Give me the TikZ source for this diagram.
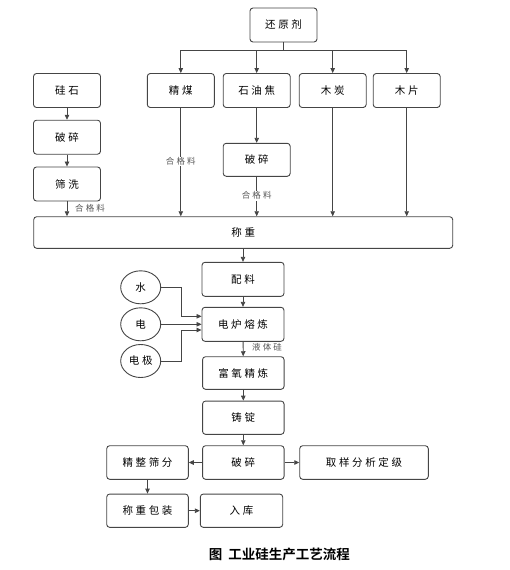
\documentclass[tikz,border=0pt]{standalone}
\usepackage{fontspec}
\newfontfamily\cjk[LetterSpace=25]{Noto Sans CJK SC}
\newfontfamily\cjkcap[BoldFont=* Bold]{Noto Sans CJK SC}
\usetikzlibrary{arrows.meta,calc}
\definecolor{ln}{HTML}{454545}
\definecolor{lab}{HTML}{555555}
\tikzset{
  box/.style={draw=ln, line width=0.9pt, rounded corners=3pt, minimum width=67pt, minimum height=34pt, inner sep=0pt, font=\cjk\fontsize{10.5}{12}\selectfont, text=black},
  circ/.style={draw=ln, line width=0.9pt, ellipse, minimum width=40pt, minimum height=33pt, inner sep=0pt, font=\cjk\fontsize{10.5}{12}\selectfont},
  conn/.style={draw=ln, line width=0.8pt},
  arr/.style={conn, -{Triangle[length=5pt,width=4.5pt]}},
  lbl/.style={font=\cjk\fontsize{8.5}{10}\selectfont, text=lab, inner sep=1pt},
}
\usetikzlibrary{shapes.geometric}
\begin{document}
\begin{tikzpicture}[x=1pt,y=-1pt]
\useasboundingbox (0,0) rectangle (509,570);
% top
\node[box] (hyj) at (283.5,25) {还原剂};
\node[box] (gs) at (67,90.5) {硅石};
\node[box] (jm) at (180.8,90.5) {精煤};
\node[box] (syj) at (256.7,90.5) {石油焦};
\node[box] (mt) at (332.7,90.5) {木炭};
\node[box] (mp) at (406.7,90.5) {木片};
\node[box] (ps1) at (67,137.2) {破碎};
\node[box] (sx) at (67,184) {筛洗};
\node[box, minimum height=33pt] (ps2) at (256.7,159.8) {破碎};
\node[box, minimum width=419pt, minimum height=31.6pt] (cz) at (243.2,232.5) {称重};
\node[box, minimum width=82pt] (pl) at (243,279.3) {配料};
\node[box, minimum width=82pt] (dl) at (243,324.3) {电炉熔炼};
\node[box, minimum width=81.5pt, minimum height=32.6pt] (fy) at (243.3,373) {富氧精炼};
\node[box, minimum width=81.5pt, minimum height=33.3pt] (zd) at (243.3,417.7) {铸锭};
\node[box, minimum width=81.5pt, minimum height=33.6pt] (ps3) at (243.3,462.5) {破碎};
\node[box, minimum width=81.6pt, minimum height=33.6pt] (jz) at (147.5,462.5) {精整筛分};
\node[box, minimum width=128.6pt, minimum height=33.6pt] (qy) at (364,462.5) {取样分析定级};
\node[box, minimum width=81.6pt, minimum height=33.3pt] (czb) at (147.5,510.7) {称重包装};
\node[box, minimum width=82.4pt, minimum height=33.3pt] (rk) at (241.5,510.7) {入库};
\node[circ] (sh) at (140.7,287.3) {水};
\node[circ] (di) at (140.7,324.3) {电};
\node[circ] (dj) at (140.7,361) {电极};
% connectors
\coordinate (br) at (283.5,50.7);
\draw[conn] (hyj.south) -- (br);
\draw[arr] (br) -| (jm.north);
\draw[arr] (br) -| (syj.north);
\draw[arr] (br) -| (mt.north);
\draw[arr] (br) -| (mp.north);
\draw[arr] (gs) -- (ps1);
\draw[arr] (ps1) -- (sx);
\draw[arr] (sx.south) -- (sx.south |- cz.north);
\node[lbl, anchor=west] (l1) at (74,208.3) {合格料};
\draw[arr] (jm.south) -- (jm.south |- cz.north) node[lbl, fill=white, pos=0.495] (l2) {合格料};
\draw[arr] (syj) -- (ps2);
\draw[arr] (ps2.south) -- (ps2.south |- cz.north) node[lbl, fill=white, pos=0.48] (l3) {合格料};
\draw[arr] (mt.south) -- (mt.south |- cz.north);
\draw[arr] (mp.south) -- (mp.south |- cz.north);
\draw[arr] (cz.south -| pl.north) -- (pl.north);
\draw[arr] (pl) -- (dl);
\draw[arr] (dl) -- (fy);
\node[lbl, anchor=west] (l4) at (251,347.7) {液体硅};
\draw[arr] (fy) -- (zd);
\draw[arr] (zd) -- (ps3);
\draw[arr] (ps3) -- (jz);
\draw[arr] (ps3) -- (qy);
\draw[arr] (jz.south) -- (czb.north);
\draw[arr] (czb) -- (rk);
\draw[arr] (sh.east) -- ++(20.3,0) |- ([yshift=8pt]dl.west);
\draw[arr] (di.east) -- (dl.west);
\draw[arr] (dj.east) -- ++(20.3,0) |- ([yshift=-5.7pt]dl.west);
% caption
\node[font=\cjkcap\bfseries\fontsize{13.5}{15}\selectfont] (cap) at (279.3,554) {图\hspace{6pt}工业硅生产工艺流程};
\end{tikzpicture}
\end{document}
